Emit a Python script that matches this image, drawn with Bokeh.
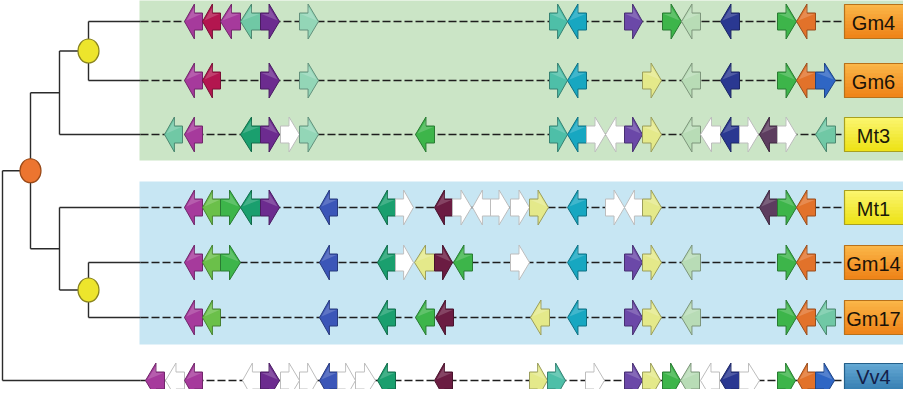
from bokeh.plotting import figure
from bokeh.models import Range1d
from bokeh.embed import file_html
from bokeh.resources import INLINE
from bokeh.core.properties import value

# ---------------- data ----------------
species = ["Gm4", "Gm6", "Mt3", "Mt1", "Gm14", "Gm17", "Vv4"]
species_kind = ["Gm", "Gm", "Mt", "Mt", "Gm", "Gm", "Vv"]

# genes per locus: (start, end, strand, family)
gm4 = [(192, 210, -1, "magenta"), (210, 228, -1, "crimson"), (228, 248, -1, "magenta"),
       (248, 268, -1, "mint"), (268, 287, 1, "purple"), (307, 326, 1, "palemint"),
       (557, 575, 1, "aqua"), (575, 594, -1, "cyan"), (632, 650, 1, "violet"),
       (670, 689, 1, "green"), (689, 708, -1, "palegreen"), (728, 747, -1, "navy"),
       (785, 804, 1, "green"), (804, 823, -1, "orange")]
gm6 = [(192, 210, -1, "magenta"), (210, 228, -1, "crimson"), (268, 287, 1, "purple"),
       (307, 326, 1, "palemint"), (557, 575, 1, "aqua"), (575, 594, -1, "cyan"),
       (650, 669, 1, "yellow"), (689, 708, -1, "palegreen"), (728, 747, -1, "navy"),
       (785, 804, 1, "green"), (804, 823, -1, "orange"), (823, 843, 1, "blue")]
mt3 = [(172, 190, -1, "mint"), (192, 210, -1, "magenta"), (248, 268, -1, "emerald"),
       (268, 287, 1, "purple"), (288, 307, 1, "white"), (307, 326, 1, "palemint"),
       (423, 442, -1, "green"), (557, 575, 1, "aqua"), (575, 594, -1, "cyan"),
       (594, 613, 1, "white"), (613, 632, -1, "white"), (632, 650, 1, "violet"),
       (650, 669, 1, "yellow"), (689, 708, -1, "palegreen"), (708, 728, -1, "white"),
       (728, 747, -1, "navy"), (747, 766, 1, "white"), (767, 785, -1, "mauve"),
       (785, 804, 1, "white"), (823, 843, -1, "mint")]
mt1 = [(192, 210, -1, "magenta"), (210, 228, -1, "lime"), (228, 248, 1, "green"),
       (248, 268, -1, "emerald"), (268, 287, 1, "purple"), (327, 345, -1, "royal"),
       (385, 403, -1, "emerald"), (403, 421, 1, "white"), (442, 460, -1, "maroon"),
       (460, 479, 1, "white"), (480, 498, -1, "white"), (498, 517, 1, "white"),
       (518, 537, 1, "white"), (537, 556, 1, "yellow"), (575, 594, -1, "cyan"),
       (613, 632, 1, "white"), (632, 650, -1, "white"), (650, 669, 1, "yellow"),
       (767, 785, -1, "mauve"), (785, 804, 1, "green"), (804, 823, -1, "orange")]
gm14 = [(192, 210, -1, "magenta"), (210, 228, -1, "lime"), (228, 248, 1, "green"),
        (327, 345, -1, "royal"), (385, 403, -1, "emerald"), (403, 421, 1, "white"),
        (422, 442, -1, "yellow"), (442, 460, 1, "maroon"), (461, 480, -1, "green"),
        (518, 537, 1, "white"), (575, 594, -1, "cyan"), (632, 650, 1, "violet"),
        (650, 669, 1, "yellow"), (689, 708, -1, "palegreen"), (785, 804, 1, "green"),
        (804, 823, -1, "orange")]
gm17 = [(192, 210, -1, "magenta"), (210, 228, -1, "lime"), (327, 345, -1, "royal"),
        (385, 403, -1, "emerald"), (423, 442, -1, "green"), (443, 461, -1, "maroon"),
        (538, 557, -1, "yellow"), (575, 594, -1, "cyan"), (632, 650, 1, "violet"),
        (650, 669, 1, "yellow"), (689, 708, -1, "palegreen"), (785, 804, 1, "green"),
        (804, 823, -1, "orange"), (823, 843, -1, "mint")]
vv4 = [(153, 172, -1, "magenta"), (173, 192, -1, "white"), (192, 210, -1, "magenta"),
       (250, 268, -1, "white"), (268, 287, 1, "purple"), (288, 307, 1, "white"),
       (307, 325, 1, "white"), (327, 345, -1, "royal"), (345, 363, 1, "white"),
       (363, 383, 1, "white"), (385, 403, -1, "emerald"), (442, 460, -1, "maroon"),
       (537, 555, 1, "yellow"), (555, 573, 1, "aqua"), (593, 612, 1, "white"),
       (632, 650, 1, "violet"), (650, 668, 1, "yellow"), (670, 688, 1, "green"),
       (688, 707, -1, "palegreen"), (708, 727, -1, "white"), (728, 747, -1, "navy"),
       (747, 767, 1, "white"), (785, 803, 1, "green"), (805, 823, -1, "orange"),
       (823, 842, 1, "blue")]
loci = [gm4, gm6, mt3, mt1, gm14, gm17, vv4]

# tree: internal nodes (name, children), children are species or node names
tree_nodes = [("nA", ["Gm4", "Gm6"]), ("nB", ["nA", "Mt3"]), ("nC", ["Gm14", "Gm17"]),
              ("nD", ["Mt1", "nC"]), ("nE", ["nB", "nD"]), ("root", ["nE", "Vv4"])]
tree_marks = {"nA": "dup", "nC": "dup", "nE": "wgd"}

# ---------------- layout / style ----------------
row_y = [29, 88, 142, 215, 270, 325, 388]
node_depth = {"root": 10, "nE": 38, "nB": 67, "nD": 67, "nA": 96, "nC": 96}
track_start, track_end = 148, 852

palette = {
    "magenta": "#a63a9c", "crimson": "#b3164f", "mint": "#70c8a5", "palemint": "#93d6b7",
    "purple": "#6c2b8f", "aqua": "#4ebfa8", "cyan": "#17a7c1", "violet": "#6b48a8",
    "green": "#3db54a", "palegreen": "#b8dcb6", "navy": "#2a3891", "orange": "#e2722a",
    "blue": "#2f66c4", "yellow": "#e4e98a", "white": "#ffffff", "mauve": "#5d3d5f",
    "maroon": "#6b1c42", "emerald": "#1a9f6e", "lime": "#6bc04a", "royal": "#3b56b8",
}
box_style = {"Gm": ("#fbb648", "#ef851a", "#b8711a", "#1a1208"),
             "Mt": ("#fbf66e", "#eee31a", "#a8a020", "#1a1a08"),
             "Vv": ("#63a8d3", "#2d76ab", "#24608a", "#14204a")}


def darken(h, f=0.68):
    h = h.lstrip("#")
    r, g, b = (int(h[i:i + 2], 16) for i in (0, 2, 4))
    return "#%02x%02x%02x" % (int(r * f), int(g * f), int(b * f))


def mix(a, b, t):
    a = a.lstrip("#"); b = b.lstrip("#")
    ca = [int(a[i:i + 2], 16) for i in (0, 2, 4)]
    cb = [int(b[i:i + 2], 16) for i in (0, 2, 4)]
    return "#%02x%02x%02x" % tuple(int(ca[k] + (cb[k] - ca[k]) * t) for k in range(3))


W, H = 903, 389
p = figure(width=W, height=H, output_backend="svg", toolbar_location=None,
           x_range=Range1d(8, 8 + W), y_range=Range1d(8 + H, 8),
           min_border=0, outline_line_color=None)
p.axis.visible = False
p.grid.visible = False
p.background_fill_color = "white"
p.border_fill_color = "white"

# group backgrounds
p.quad(left=[147, 147], right=[960, 960], top=[7, 189], bottom=[168, 352],
       fill_color=["#cbe5c6", "#c7e6f3"], line_color=None)

# tree
ypos = {s: y for s, y in zip(species, row_y)}
xpos = {s: track_start for s in species}
for name, ch in tree_nodes:
    ypos[name] = sum(ypos[c] for c in ch) / len(ch)
    xpos[name] = node_depth[name]
tx, ty = [], []
for name, ch in tree_nodes:
    d = xpos[name]
    ys = [ypos[c] for c in ch]
    tx.append([d, d]); ty.append([min(ys), max(ys)])
    for c in ch:
        tx.append([d, xpos[c]]); ty.append([ypos[c], ypos[c]])
p.multi_line(tx, ty, line_color="#2b2b2b", line_width=1.4)

# row baselines
p.multi_line([[track_start, track_end] for _ in row_y], [[y, y] for y in row_y],
             line_color="#1e1e1e", line_width=1.3, line_dash="8 3")

# node markers
mk = [(n, t) for n, t in tree_marks.items()]
p.ellipse(x=[xpos[n] for n, t in mk], y=[ypos[n] for n, t in mk], width=21, height=24,
          fill_color=["#ede52c" if t == "dup" else "#ec7530" for n, t in mk],
          line_color=["#8a8420" if t == "dup" else "#9a4a18" for n, t in mk], line_width=1.2)

# gene arrows
xs, ys, fc, lc, hx, hy = [], [], [], [], [], []
bh, hh = 8.5, 17.5
for locus, y in zip(loci, row_y):
    for s, e, strand, fam in locus:
        L = e - s
        hl = 0.55 * L
        if strand > 0:
            px = [s, e - hl, e - hl, e, e - hl, e - hl, s]
            gx = [s + 1, e - hl, e - hl, e - 2, e - 2]
        else:
            px = [e, s + hl, s + hl, s, s + hl, s + hl, e]
            gx = [e - 1, s + hl, s + hl, s + 2, s + 2]
        py = [y - bh, y - bh, y - hh, y, y + hh, y + bh, y + bh]
        gy = [y - bh + 1, y - bh + 1, y - hh + 3, y - 1, y - 1]
        xs.append(px); ys.append(py)
        col = palette[fam]
        fc.append(col)
        lc.append("#bdbdbd" if fam == "white" else darken(col))
        hx.append(gx); hy.append(gy)
p.patches(xs, ys, fill_color=fc, line_color=lc, line_width=1)
p.patches(hx, hy, fill_color="white", fill_alpha=0.18, line_color=None)

# label boxes
bottom_edge = 8 + H
for sp, kind, y in zip(species, species_kind, row_y):
    top_c, bot_c, edge, txt = box_style[kind]
    n = 10
    top, bot = y - 17, y + 17
    lefts, rights, tops, bots, cols = [], [], [], [], []
    for i in range(n):
        lefts.append(852); rights.append(960)
        tops.append(top + (bot - top) * i / n); bots.append(top + (bot - top) * (i + 1) / n)
        cols.append(mix(top_c, bot_c, i / (n - 1)))
    p.quad(left=lefts, right=rights, top=tops, bottom=bots, fill_color=cols,
           line_color=cols, line_width=1)
    p.quad(left=[852], right=[960], top=[top], bottom=[bot], fill_color=None,
           line_color=edge, line_width=1.2)
    ty_lab = min(y + 1, bottom_edge - 13)
    p.text(x=[881], y=[ty_lab], text=[sp], text_font=value("Liberation Sans"),
           text_font_size="20px", text_align="center", text_baseline="middle",
           text_color=txt)

open("out.html", "w").write(file_html(p, INLINE))
